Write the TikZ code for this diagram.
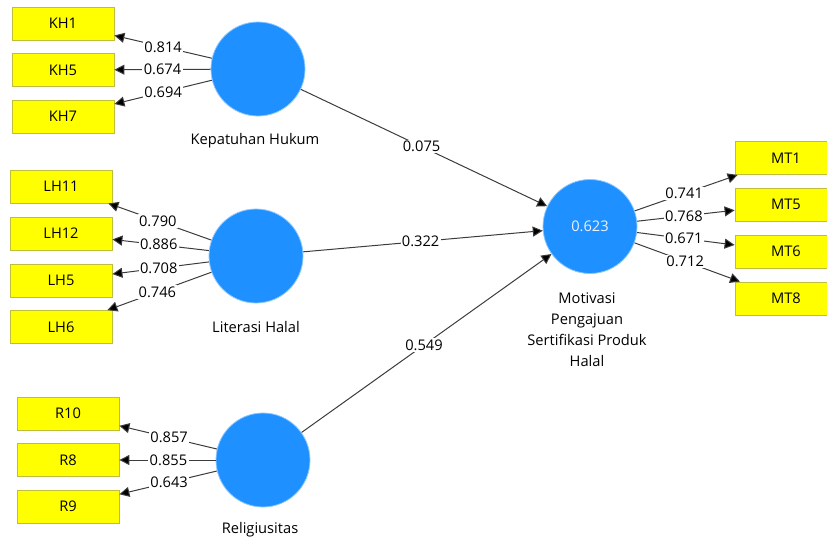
\documentclass[tikz,border=0pt]{standalone}
\usepackage{fontspec}
\setmainfont{Open Sans}
\usetikzlibrary{arrows.meta}

\definecolor{lvblue}{RGB}{30,144,255}
\definecolor{lvedge}{RGB}{140,200,255}
\definecolor{indyellow}{RGB}{255,255,0}
\definecolor{indedge}{RGB}{190,190,60}
\definecolor{pathgray}{RGB}{60,60,60}

\tikzset{every picture/.style={line width=0.75pt}}
\tikzset{
  latent/.style={circle,fill=lvblue,draw=lvedge,line width=0.6pt,minimum size=70.5pt,inner sep=0pt,text={rgb,255:red,235;green,242;blue,255}},
  indicator/.style={rectangle,fill=indyellow,draw=indedge,line width=0.6pt,minimum width=76.5pt,minimum height=24.75pt,inner sep=0pt},
  lvname/.style={align=center},
  coef/.style={fill=white,inner sep=1pt},
  link/.style={draw=pathgray,-{Triangle[length=7.5pt,width=7.5pt,fill=black]}},
}

\begin{document}
\begin{tikzpicture}[x=0.75pt,y=0.75pt,yscale=-1,xscale=1,font=\fontsize{11}{15.75}\selectfont]
	\useasboundingbox (0,0) rectangle (827,543);

	% Latent variables
	\node [latent] (kh) at (258,69) {};
	\node [latent] (lh) at (256,256) {};
	\node [latent] (rl) at (263,460) {};
	\node [latent] (mt) at (590,226.5) {0.623};

	% Names
	\node [lvname] (khname) at (255,141) {Kepatuhan Hukum};
	\node [lvname] (lhname) at (256,327) {Literasi Halal};
	\node [lvname] (rlname) at (260,530) {Religiusitas};
	\node [lvname] (mtname) at (587,330) {Motivasi\\Pengajuan\\Sertifikasi Produk\\Halal};

	% Indicators
	\node [indicator] (kh1) at (63,23.5) {KH1};
	\node [indicator] (kh5) at (63,70) {KH5};
	\node [indicator] (kh7) at (63,116.5) {KH7};
	\node [indicator] (lh11) at (61,186.5) {LH11};
	\node [indicator] (lh12) at (61,233.5) {LH12};
	\node [indicator] (lh5) at (61,280.5) {LH5};
	\node [indicator] (lh6) at (61,327) {LH6};
	\node [indicator] (r10) at (68,413.5) {R10};
	\node [indicator] (r8) at (68,460) {R8};
	\node [indicator] (r9) at (68,506.5) {R9};
	\node [indicator] (mt1) at (786,158) {MT1};
	\node [indicator] (mt5) at (786,204.5) {MT5};
	\node [indicator] (mt6) at (786,251.5) {MT6};
	\node [indicator] (mt8) at (786,298.5) {MT8};

	% Outer loadings
	\draw [link] (kh) -- node [coef,pos=0.5] (l1) {0.814} (kh1);
	\draw [link] (kh) -- node [coef,pos=0.5] (l2) {0.674} (kh5);
	\draw [link] (kh) -- node [coef,pos=0.5] (l3) {0.694} (kh7);
	\draw [link] (lh) -- node [coef,pos=0.52] (l4) {0.790} (lh11);
	\draw [link] (lh) -- node [coef,pos=0.52] (l5) {0.886} (lh12);
	\draw [link] (lh) -- node [coef,pos=0.52] (l6) {0.708} (lh5);
	\draw [link] (lh) -- node [coef,pos=0.52] (l7) {0.746} (lh6);
	\draw [link] (rl) -- node [coef,pos=0.49] (l8) {0.857} (r10);
	\draw [link] (rl) -- node [coef,pos=0.49] (l9) {0.855} (r8);
	\draw [link] (rl) -- node [coef,pos=0.49] (l10) {0.643} (r9);
	\draw [link] (mt) -- node [coef,pos=0.48] (l11) {0.741} (mt1);
	\draw [link] (mt) -- node [coef,pos=0.48] (l12) {0.768} (mt5);
	\draw [link] (mt) -- node [coef,pos=0.48] (l13) {0.671} (mt6);
	\draw [link] (mt) -- node [coef,pos=0.48] (l14) {0.712} (mt8);

	% Path coefficients
	\draw [link] (kh) -- node [coef,pos=0.49] (p1) {0.075} (mt);
	\draw [link] (lh) -- node [coef,pos=0.49] (p2) {0.322} (mt);
	\draw [link] (rl) -- node [coef,pos=0.49] (p3) {0.549} (mt);

\end{tikzpicture}
\end{document}
